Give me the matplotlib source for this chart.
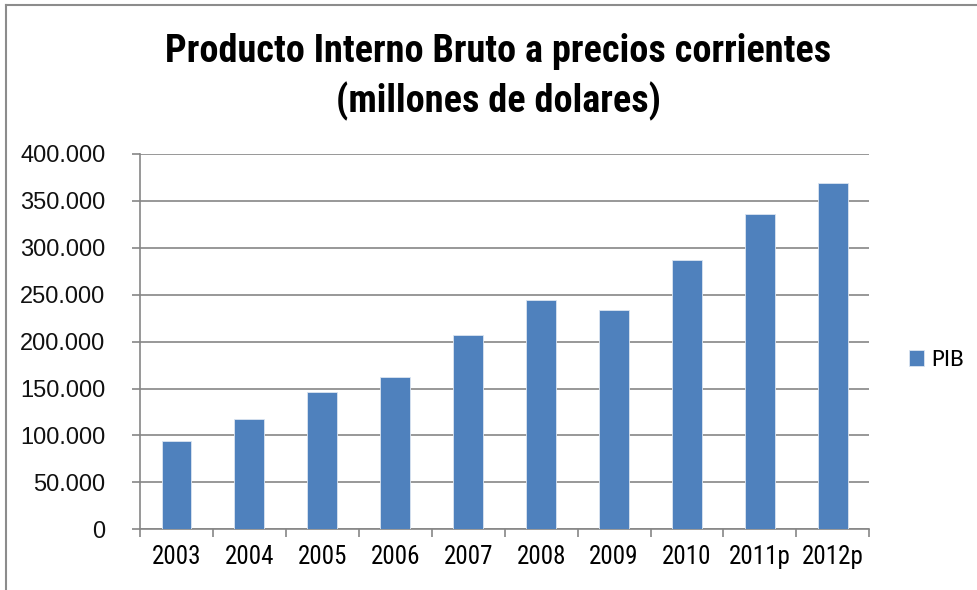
import numpy as np
import matplotlib
matplotlib.use("Agg")
import matplotlib.pyplot as plt
from matplotlib.lines import Line2D

years = ["2003", "2004", "2005", "2006", "2007", "2008", "2009", "2010", "2011p", "2012p"]
pib = [94100, 117200, 146000, 162300, 207400, 244000, 233700, 287300, 336400, 369400]
y_ticks = [0, 50000, 100000, 150000, 200000, 250000, 300000, 350000, 400000]
y_labels = ["0", "50.000", "100.000", "150.000", "200.000", "250.000", "300.000", "350.000", "400.000"]

narrow = ["Roboto Condensed", "DejaVu Sans"]
W, H = 977, 590

fig = plt.figure(figsize=(W / 100, H / 100), dpi=100)
# plot area in pixels: x 140..869, y 154..529
ax = fig.add_axes([140 / W, 1 - 529.3 / H, (869.3 - 140) / W, (529.3 - 154) / H])

x = np.arange(len(years))
ax.bar(x, pib, width=0.41, color="#4F81BD", edgecolor="#dbe5f1", linewidth=0.6,
       label="PIB", zorder=3)

ax.set_xlim(-0.5, len(years) - 0.5)
ax.set_ylim(0, 400000)
ax.set_yticks(y_ticks)
ax.set_yticklabels(y_labels, fontsize=17, family=["Liberation Sans", "DejaVu Sans"], color="#111111")
ax.set_xticks(x)
ax.set_xticklabels(years, fontsize=18, family=narrow)
ax.set_xticks(np.arange(-0.5, len(years), 1.0), minor=True)
ax.tick_params(axis="x", which="major", length=0, pad=11)
ax.tick_params(axis="x", which="minor", length=5.8, width=1.2, color="#868686")
ax.tick_params(axis="y", length=5.8, width=1.2, color="#868686", pad=19)

ax.yaxis.grid(True, color="#868686", linewidth=1.2, zorder=0)
for s in ["top", "right"]:
    ax.spines[s].set_visible(False)
for s in ["left", "bottom"]:
    ax.spines[s].set_color("#868686")
    ax.spines[s].set_linewidth(1.2)

fig.text(498 / W, 1 - 52 / H, "Producto Interno Bruto a precios corrientes",
         ha="center", va="center", fontsize=27.5, fontweight="bold", family=narrow)
fig.text(498 / W, 1 - 101 / H, "(millones de dolares)",
         ha="center", va="center", fontsize=27.5, fontweight="bold", family=narrow)

leg = fig.legend(loc="center left", bbox_to_anchor=(909 / W, 1 - 360 / H), frameon=False,
                 borderpad=0, borderaxespad=0,
                 handlelength=0.6, handleheight=0.6, handletextpad=0.3,
                 prop={"family": ["Carlito", "DejaVu Sans"], "size": 18})

# outer chart border (top and left visible)
fig.add_artist(Line2D([6 / W, 1], [1 - 5 / H, 1 - 5 / H], color="#8c8c8c", lw=1.5))
fig.add_artist(Line2D([6 / W, 6 / W], [0, 1 - 5 / H], color="#8c8c8c", lw=1.5))

fig.savefig("out.png", dpi=100)
